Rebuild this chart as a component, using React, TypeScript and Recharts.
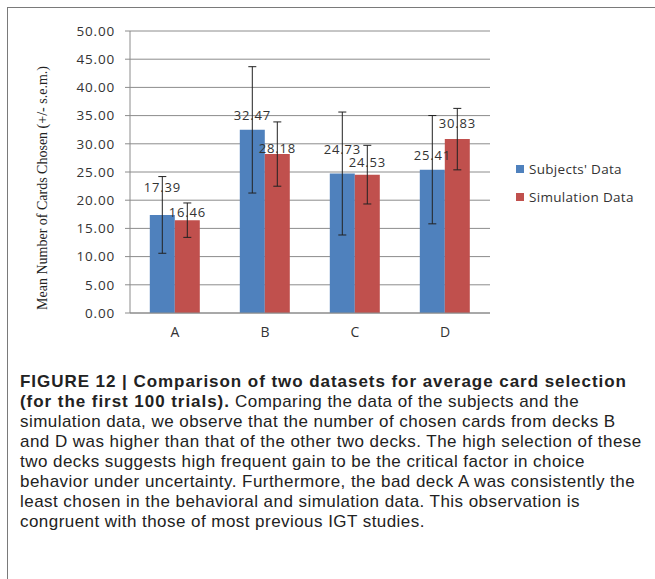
import React from "react";
import {
  BarChart,
  Bar,
  XAxis,
  YAxis,
  CartesianGrid,
  Legend,
  ErrorBar,
  LabelList,
} from "recharts";

const decks = ["A", "B", "C", "D"];
const seriesNames = ["Subjects' Data", "Simulation Data"];
const subjectsMean = [17.39, 32.47, 24.73, 25.41];
const subjectsSem = [6.8, 11.2, 10.9, 9.6];
const simulationMean = [16.46, 28.18, 24.53, 30.83];
const simulationSem = [3.05, 5.7, 5.2, 5.45];
const yTicks = [0, 5, 10, 15, 20, 25, 30, 35, 40, 45, 50];

// the value labels were placed by hand in the original, so each one sits at its own height
const subjectsLabelLift = [23, 10, 20, 10];
const simulationLabelLift = [3, 1, 8, 11];

const data = decks.map((deck, i) => ({
  deck,
  subjects: subjectsMean[i],
  subjectsErr: subjectsSem[i],
  simulation: simulationMean[i],
  simulationErr: simulationSem[i],
}));

const edgeTicks = decks.map((_, i) => i).concat(decks.length);

const BLUE = "#4F81BD";
const RED = "#C0504D";
const GRID = "#8c8c8c";
const TEXT = "#333";
const chartFont = '"Open Sans", "Liberation Sans", sans-serif';

const makeLabel = (lifts: number[]) => (props: any) => {
  const { x, y, width, value, index } = props;
  return (
    <text
      x={x + width / 2}
      y={y - lifts[index]}
      textAnchor="middle"
      fontSize={13}
      fontFamily={chartFont}
      letterSpacing={0.8}
      fill={TEXT}
    >
      {Number(value).toFixed(2)}
    </text>
  );
};

// keep the legend in series order (recharts sorts by name otherwise)
const renderLegend = (props: any) => {
  const items = [...(props.payload || [])].sort(
    (a: any, b: any) => seriesNames.indexOf(a.value) - seriesNames.indexOf(b.value)
  );
  return (
    <div style={{ fontFamily: chartFont, fontSize: 13.5, color: TEXT, letterSpacing: 0.3 }}>
      {items.map((p: any) => (
        <div key={p.value} style={{ display: "flex", alignItems: "center", height: 28 }}>
          <span style={{ width: 8, height: 8, background: p.color, marginRight: 5 }} />
          <span>{p.value}</span>
        </div>
      ))}
    </div>
  );
};

export default function App() {
  return (
    <div
      style={{
        position: "absolute",
        left: 0,
        top: 0,
        width: 655,
        height: 579,
        background: "#fff",
        overflow: "hidden",
      }}
    >
      {/* frame: top and left rules */}
      <div style={{ position: "absolute", left: 7, top: 7, width: 648, height: 0, borderTop: "1.5px solid #7a7a7a" }} />
      <div style={{ position: "absolute", left: 7, top: 7, width: 0, height: 572, borderLeft: "1.5px solid #7a7a7a" }} />

      <div style={{ position: "absolute", left: 0, top: 0 }}>
        <BarChart
          width={655}
          height={345}
          data={data}
          margin={{ top: 31, right: 165, left: 40, bottom: 2 }}
          barCategoryGap="22%"
          barGap={0}
        >
          <CartesianGrid vertical={false} stroke={GRID} strokeWidth={1} />
          <XAxis
            xAxisId="edges"
            type="number"
            domain={[0, decks.length]}
            ticks={edgeTicks}
            tick={false}
            axisLine={false}
            tickLine={{ stroke: GRID }}
            tickSize={6}
            height={0}
          />
          <XAxis
            dataKey="deck"
            tickLine={false}
            tickSize={0}
            tickMargin={14}
            height={30}
            axisLine={{ stroke: GRID }}
            tick={{ fontSize: 14, fontFamily: chartFont, fill: TEXT }}
          />
          <YAxis
            width={90}
            domain={[0, 50]}
            ticks={yTicks}
            tickFormatter={(v: number) => v.toFixed(2)}
            tickSize={5}
            tickMargin={10}
            axisLine={{ stroke: GRID }}
            tickLine={{ stroke: GRID }}
            tick={{ fontSize: 13.5, fontFamily: chartFont, fill: TEXT, letterSpacing: 0.8 }}
            label={{
              value: "Mean Number of Cards Chosen (+/- s.e.m.)",
              angle: -90,
              position: "center",
              dx: -43,
              dy: 16,
              style: { fontFamily: '"Liberation Serif", serif', fontSize: 14, fill: "#222" },
            }}
          />
          <Legend
            layout="vertical"
            align="center"
            verticalAlign="middle"
            wrapperStyle={{ left: 516, top: 155, width: 139 }}
            content={renderLegend}
          />
          <Bar dataKey="subjects" name={seriesNames[0]} fill={BLUE} isAnimationActive={false}>
            <LabelList dataKey="subjects" content={makeLabel(subjectsLabelLift)} />
            <ErrorBar dataKey="subjectsErr" width={4} stroke="#222" strokeWidth={1} direction="y" isAnimationActive={false} />
          </Bar>
          <Bar dataKey="simulation" name={seriesNames[1]} fill={RED} isAnimationActive={false}>
            <LabelList dataKey="simulation" content={makeLabel(simulationLabelLift)} />
            <ErrorBar dataKey="simulationErr" width={4} stroke="#222" strokeWidth={1} direction="y" isAnimationActive={false} />
          </Bar>
        </BarChart>
      </div>

      <div
        style={{
          position: "absolute",
          left: 20,
          top: 372,
          fontFamily: '"Liberation Sans", Arial, sans-serif',
          fontSize: 17,
          letterSpacing: 0.45,
          lineHeight: "20px",
          color: "#222",
          whiteSpace: "nowrap",
        }}
      >
        <b style={{ letterSpacing: 0.95 }}>FIGURE 12 | Comparison of two datasets for average card selection</b>
        <br />
        <b style={{ letterSpacing: 0.95 }}>(for the first 100 trials).</b> Comparing the data of the subjects and the
        <br />
        simulation data, we observe that the number of chosen cards from decks B
        <br />
        and D was higher than that of the other two decks. The high selection of these
        <br />
        two decks suggests high frequent gain to be the critical factor in choice
        <br />
        behavior under uncertainty. Furthermore, the bad deck A was consistently the
        <br />
        least chosen in the behavioral and simulation data. This observation is
        <br />
        congruent with those of most previous IGT studies.
      </div>
    </div>
  );
}
